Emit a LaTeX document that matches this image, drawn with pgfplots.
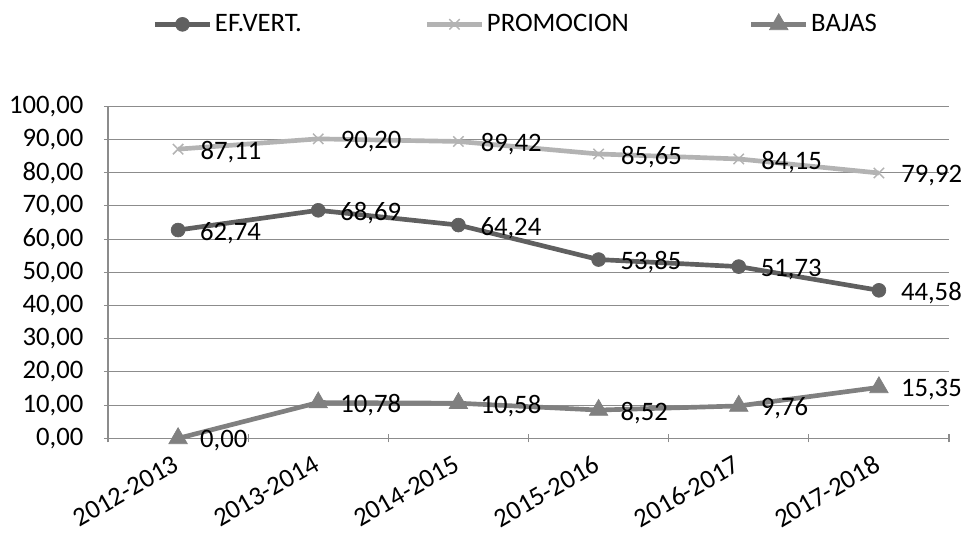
\documentclass[border=0pt]{standalone}
\usepackage{pgfplots}
\pgfplotsset{compat=1.18}
\usepackage{fontspec}
\setmainfont{Carlito}
\definecolor{cEF}{HTML}{606060}
\definecolor{cPR}{HTML}{B3B3B3}
\definecolor{cBA}{HTML}{808080}
\definecolor{cAx}{HTML}{8C8C8C}
\begin{document}
\begin{tikzpicture}
\begin{axis}[
  scale only axis, width=630.75pt, height=249pt,
  at={(0,0)}, anchor=south west,
  font=\fontsize{20}{24}\selectfont,
  xmin=-0.5, xmax=5.5, ymin=0, ymax=100,
  ytick={0,10,...,100},
  xtick={0,...,5},
  xticklabels={2012-2013,2013-2014,2014-2015,2015-2016,2016-2017,2017-2018},
  minor xtick={-0.5,0.5,...,5.5},
  major x tick style={draw=none},
  minor tick length=6pt, major tick length=6pt,
  tick align=outside, tick style={cAx, line width=0.8pt},
  axis x line=bottom, axis y line=left,
  axis line style={cAx, line width=0.8pt, -},
  ymajorgrids, grid style={cAx, line width=0.8pt},
  /pgf/number format/.cd, fixed, fixed zerofill, precision=2, use comma, 1000 sep={}, assume math mode=true,
  /pgfplots/.cd,
  yticklabel style={font=\fontsize{20}{24}\selectfont, xshift=-12pt},
  xticklabel style={rotate=30, anchor=north east, font=\fontsize{20}{24}\selectfont, yshift=-2pt, xshift=-5pt},
  nodes near coords,
  every node near coord/.append style={anchor=west, xshift=13pt, yshift=-2pt, text=black, font=\fontsize{20}{24}\selectfont},
  legend columns=3,
  legend style={at={(0.4853,1.247)}, anchor=center, draw=none, fill=none,
    font=\fontsize{20}{24}\selectfont,
    /tikz/column 2/.style={column sep=90pt},
    /tikz/column 4/.style={column sep=88pt}},
  legend cell align=left,
  legend image code/.code={\draw[mark repeat=2,mark phase=2,#1] plot coordinates {(0cm,0cm) (0.725cm,0cm) (1.45cm,0cm)};},
]
\addplot[cEF, line width=3.5pt, mark=*, mark size=5.2pt, mark options={solid, line width=0.5pt, fill=cEF}]
  coordinates {(0,62.74) (1,68.69) (2,64.24) (3,53.85) (4,51.73) (5,44.58)};
\addlegendentry{EF.VERT.}
\addplot[cPR, line width=3.5pt, mark=x, mark size=5.5pt, mark options={solid, line width=1.1pt}]
  coordinates {(0,87.11) (1,90.20) (2,89.42) (3,85.65) (4,84.15) (5,79.92)};
\addlegendentry{PROMOCION}
\addplot[cBA, line width=3.5pt, mark=triangle*, mark size=8pt, mark options={solid, line width=0.5pt, fill=cBA}]
  coordinates {(0,0.00) (1,10.78) (2,10.58) (3,8.52) (4,9.76) (5,15.35)};
\addlegendentry{BAJAS}
\end{axis}
\pgfresetboundingbox
\useasboundingbox (-81pt,-71.25pt) rectangle (645pt,328.75pt);
\end{tikzpicture}
\end{document}
